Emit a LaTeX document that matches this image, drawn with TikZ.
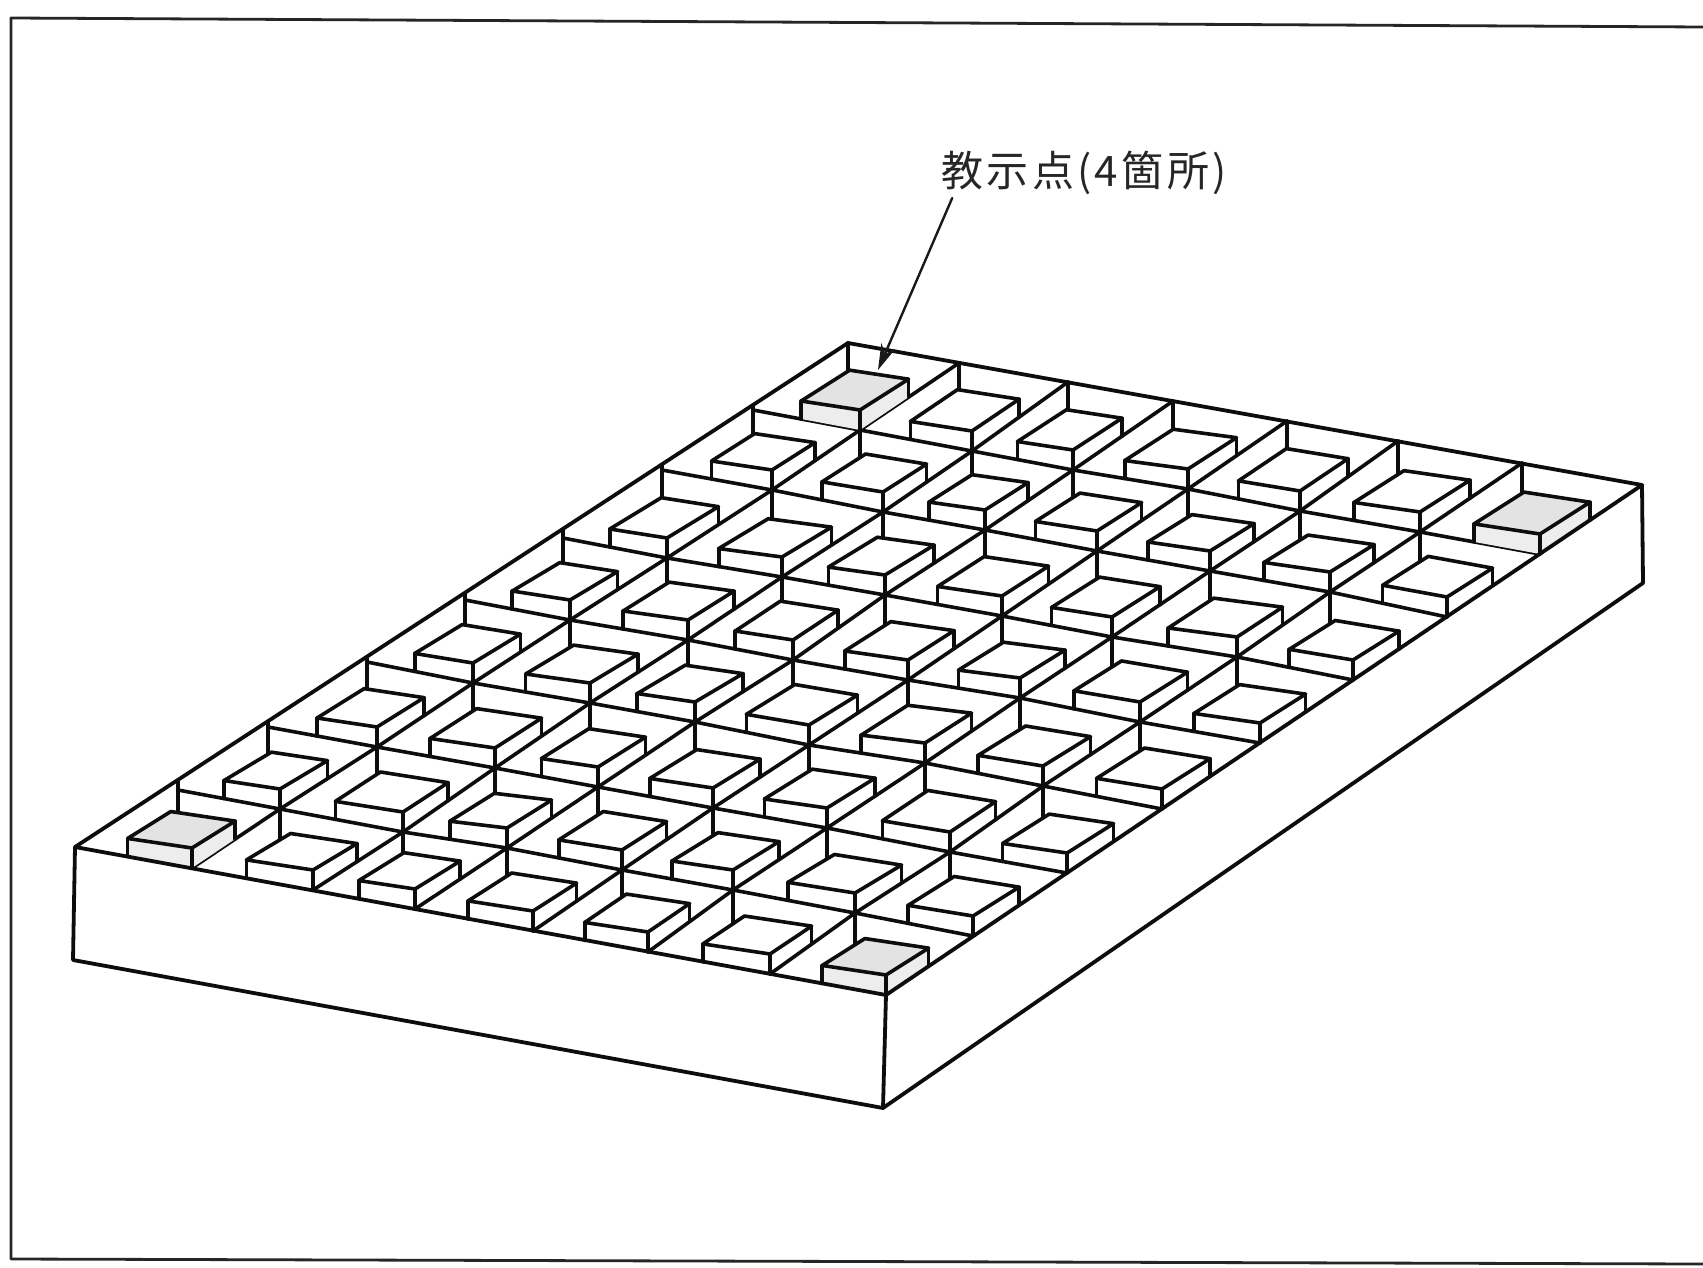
\documentclass[tikz,border=0pt]{standalone}
\usepackage{fontspec}
\newfontfamily\cjkfont[LetterSpace=8]{Noto Sans CJK JP}
\usetikzlibrary{arrows.meta,calc,positioning}

\newcommand{\blockpts}[2]{%
  \pgfmathtruncatemacro{\ii}{#1+1}%
  \pgfmathtruncatemacro{\jj}{#2+1}%
  \coordinate (fb) at (c-\ii-\jj);
  \coordinate (lb) at ($(c-\ii-\jj)!.55!(c-\ii-#2)$);
  \coordinate (rb) at ($(c-\ii-\jj)!.49!(c-#1-\jj)$);
  \coordinate (ft) at ($(fb)+(0,-20)$);
  \coordinate (lt) at ($(lb)+(0,-18)$);
  \coordinate (rt) at ($(rb)+(0,-18)$);
  \coordinate (bt) at ($(lt)+(rt)-(ft)$);
}

\begin{document}
\begin{tikzpicture}[x=1pt,y=-1pt,line join=round,line cap=round,
    frameline/.style={line width=2.8pt,black!85},
    bodyline/.style={line width=3.8pt,black!95},
    gridline/.style={line width=3.6pt,black!95},
    topgrey/.style={fill=black!11},
    sidegrey/.style={fill=black!7},
    pointer/.style={line width=2.4pt,black!90,-{Stealth[length=26pt,width=15pt]}}]

  \useasboundingbox (0,0) rectangle (1703,1268);
  \draw[frameline] (1703,27) -- (11,18) -- (11,1259) -- (1703,1264);

  % junctions of the tray, row by row
  \foreach \i/\rowpts in {
      0/{848/343,959/363,1068/382,1173/401,1287/421,1398/441,1522/463,1642/485},
      1/{753/410,860/430,972/451,1073/470,1188/489,1300/511,1420/532,1540/554},
      2/{662/470,772/490,883/512,985/530,1097/551,1210/571,1330/592,1447/617},
      3/{563/538,667/558,782/577,885/595,1002/616,1112/637,1237/657,1353/680},
      4/{465/600,570/620,688/640,793/660,908/680,1020/698,1140/722,1260/743},
      5/{367/662,473/683,590/703,695/722,809/745,925/763,1043/786,1162/809},
      6/{268/727,377/747,495/768,598/787,713/808,827/828,950/852,1067/873},
      7/{178/790,280/809,403/832,507/848,622/870,733/890,855/913,973/936},
      8/{75/847,192/868,313/890,415/909,533/931,648/952,770/974,886/995}}
    \foreach \x/\y [count=\j from 0] in \rowpts
      \coordinate (c-\i-\j) at (\x,\y);

  \coordinate (lowleft) at (73,960);
  \coordinate (lowfront) at (883,1108);
  \coordinate (lowright) at (1643,583);

  \foreach \i in {1,...,7}
    \foreach \j in {0,...,6} {
      \pgfmathtruncatemacro{\nextj}{\j+1}
      \draw[gridline] (c-\i-\j) -- (c-\i-\nextj);
    }
  \foreach \j in {1,...,6}
    \foreach \i in {0,...,7} {
      \pgfmathtruncatemacro{\nexti}{\i+1}
      \draw[gridline] (c-\i-\j) -- (c-\nexti-\j);
    }
  % row starts hang just under the long edge
  \foreach \i in {1,...,7}
    \draw[gridline] (c-\i-0) -- (intersection cs: first line={(c-\i-0)--($(c-\i-0)+(0,-10)$)}, second line={(c-0-0)--(c-8-0)});

  % back posts run in under the white block tops
  \foreach \i in {0,...,7}
    \foreach \j in {0,...,6} {
      \blockpts{\i}{\j}
      \draw[gridline] (c-\i-\j) -- ($(c-\i-\j |- bt)+(0,8)$);
      \fill[white] (bt) -- (rt) -- (ft) -- (lt) -- cycle;
    }

  % the four marked blocks
  \foreach \i/\j in {0/0,0/6,7/0,7/6} {
    \blockpts{\i}{\j}
    \fill[topgrey] (bt) -- (rt) -- (ft) -- (lt) -- cycle;
    \fill[sidegrey] (lt) -- (ft) -- (fb) -- (lb) -- cycle;
    \fill[sidegrey] (rt) -- (ft) -- (fb) -- (rb) -- cycle;
  }

  \foreach \i in {0,...,7}
    \foreach \j in {0,...,6} {
      \blockpts{\i}{\j}
      \draw[gridline] (bt) -- (rt) -- (ft) -- (lt) -- cycle;
      \draw[gridline] (lt) -- (lb);
      \draw[gridline] (rt) -- (rb);
      \draw[gridline] (ft) -- (fb);
    }

  \draw[bodyline] (c-0-0) -- (c-0-7) -- (c-8-7) -- (c-8-0) -- cycle;
  \draw[bodyline] (c-8-0) -- (lowleft) -- (lowfront) -- (lowright) -- (c-0-7);
  \draw[bodyline] (c-8-7) -- (lowfront);

  \node[inner sep=0pt,font=\cjkfont\fontsize{42}{50}\selectfont,black!85] (teach) at (1084,173) {教示点(4箇所)};
  \coordinate (tip) at (878,370);
  \draw[pointer] ([xshift=11pt,yshift=-3pt]teach.south west) -- (tip);

\end{tikzpicture}
\end{document}
